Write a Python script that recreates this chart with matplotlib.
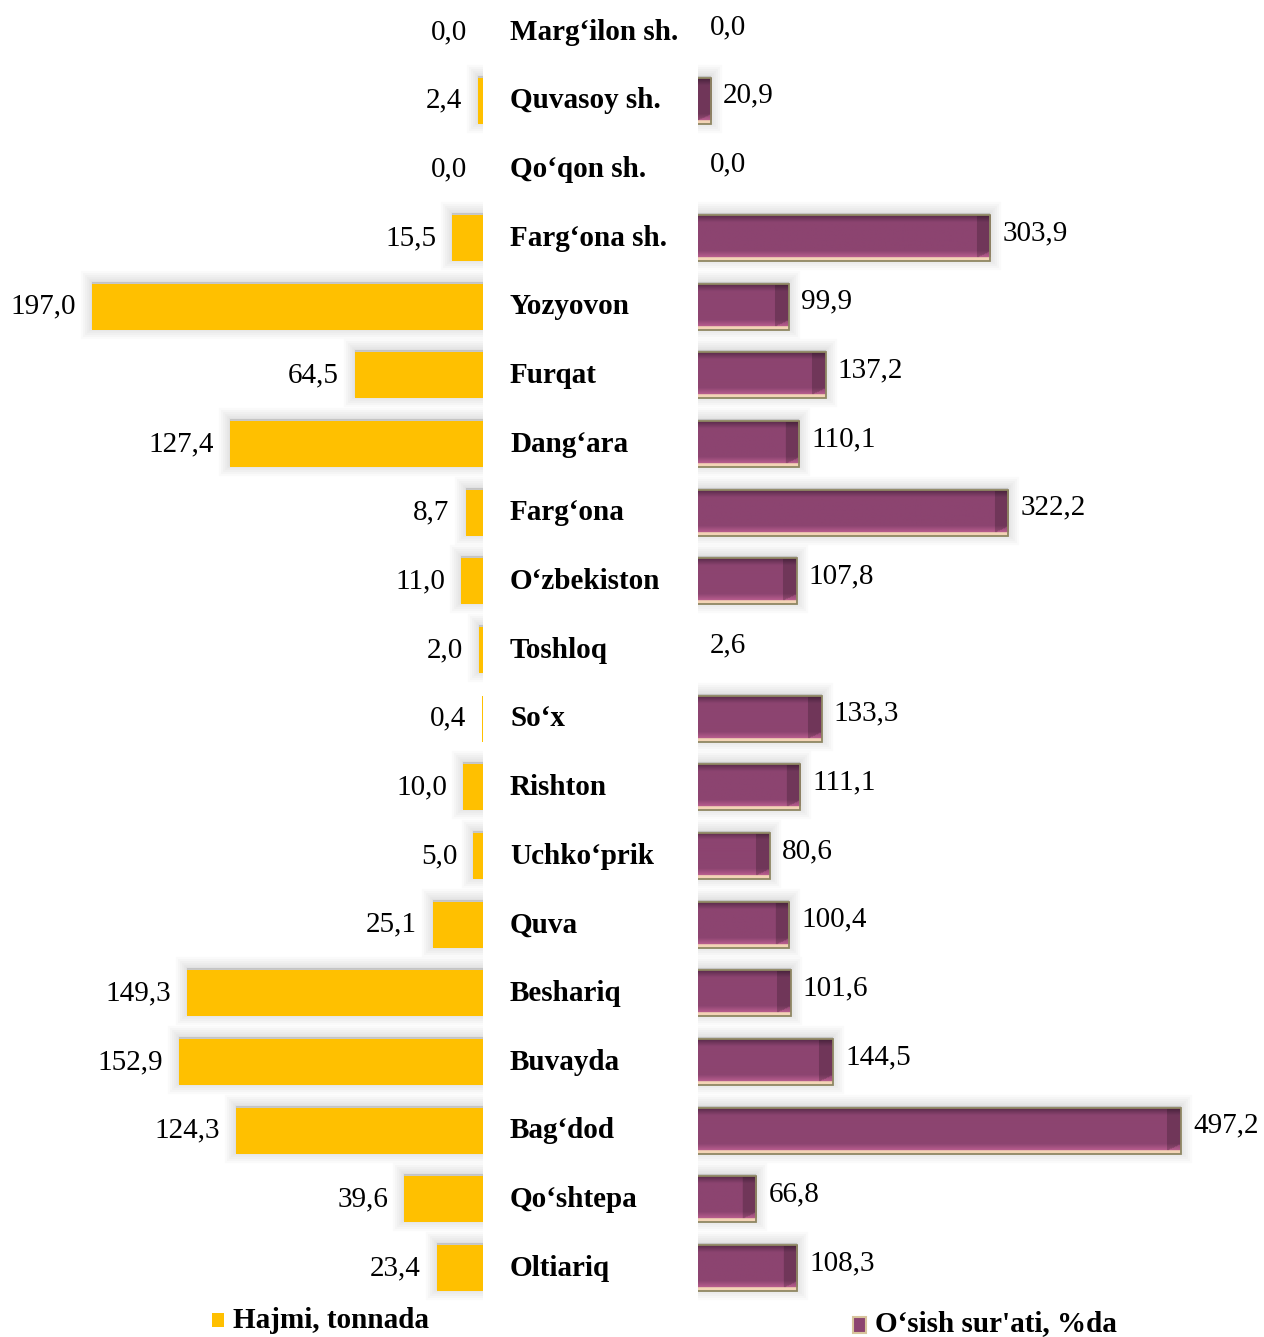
import matplotlib
matplotlib.use('Agg')
import matplotlib.pyplot as plt
import matplotlib.transforms as mtransforms
from matplotlib.patches import Rectangle
import numpy as np

plt.rcParams['font.family'] = ['Liberation Serif', 'DejaVu Serif']

categories = ["Marg‘ilon sh.", "Quvasoy sh.", "Qo‘qon sh.", "Farg‘ona sh.", "Yozyovon",
              "Furqat", "Dang‘ara", "Farg‘ona", "O‘zbekiston", "Toshloq", "So‘x",
              "Rishton", "Uchko‘prik", "Quva", "Beshariq", "Buvayda", "Bag‘dod",
              "Qo‘shtepa", "Oltiariq"]
volume = [0.0, 2.4, 0.0, 15.5, 197.0, 64.5, 127.4, 8.7, 11.0, 2.0, 0.4, 10.0, 5.0,
          25.1, 149.3, 152.9, 124.3, 39.6, 23.4]
growth = [0.0, 20.9, 0.0, 303.9, 99.9, 137.2, 110.1, 322.2, 107.8, 2.6, 133.3, 111.1,
          80.6, 100.4, 101.6, 144.5, 497.2, 66.8, 108.3]
legend_labels = ["Hajmi, tonnada", "O‘sish sur'ati, %da"]

W, H = 1264, 1337
fig = plt.figure(figsize=(W / 100, H / 100), dpi=100)

n = len(categories)
ypos = np.arange(n)
row0, step = 32.0, 68.67
ytop = -row0 / step
ybot = (H - row0) / step
bh = 46 / step

lscale = 1.985
LXLIM = (483 / lscale, 0)
axL = fig.add_axes([0, 0, 483 / W, 1])
axL.axis('off')

r0, rscale = 7.7, 0.9866
RXLIM = (r0, r0 + 566 / rscale)
axR = fig.add_axes([698 / W, 0, 566 / W, 1])
axR.axis('off')

vol_arr = np.array(volume)
gro_arr = np.array(growth)

# soft shadows (only for visible bars)
mL = vol_arr >= 1
mR = gro_arr >= r0 + 1
for lw in [16, 13, 10, 7, 4, 1.5]:
    axL.barh(ypos[mL] - 0.03, vol_arr[mL], height=bh, color='black', edgecolor='black',
             linewidth=lw, alpha=0.018, zorder=1)
    axR.barh(ypos[mR] - 0.03, gro_arr[mR], height=bh, color='black', edgecolor='black',
             linewidth=lw, alpha=0.018, zorder=1)

# yellow bars
axL.barh(ypos, volume, height=bh, color='#FFC000', edgecolor='none', zorder=3)

def hexrgb(h):
    h = h.lstrip('#')
    return np.array([int(h[i:i + 2], 16) / 255 for i in (0, 2, 4)])

top_c = hexrgb('#5a2b4b')
mid_c = hexrgb('#8c4470')
low_c = hexrgb('#bb5f90')
peach = hexrgb('#f3d4b6')
rows = 60
col = np.zeros((rows, 3))
for r in range(rows):
    t = r / (rows - 1)
    if t < 0.15:
        f = t / 0.15
        col[r] = top_c * (1 - f) + mid_c * f
    elif t < 0.78:
        col[r] = mid_c
    elif t < 0.93:
        f = (t - 0.78) / 0.15
        col[r] = mid_c * (1 - f) + low_c * f
    else:
        col[r] = peach

bars = axR.barh(ypos, growth, height=bh, facecolor='none', edgecolor='#8f8763',
                linewidth=1.3, zorder=4)
for b, v, yc in zip(bars, growth, ypos):
    if v <= r0:
        b.set_visible(False)
        continue
    px = max(int(round((v - r0) * rscale)), 2)
    img = np.repeat(col[:, None, :], px, axis=1).copy()
    bev = 14
    for r in range(rows):
        t = r / (rows - 1)
        if t >= 0.93:
            continue
        for c in range(max(0, px - bev), px):
            d = px - c
            if t < 0.78 or (0.93 - t) / 0.15 * bev >= (bev - d):
                img[r, c] = img[r, c] * 0.8
    im = axR.imshow(img, extent=[r0, v, yc + bh / 2, yc - bh / 2], aspect='auto',
                    interpolation='bilinear', zorder=3)
    im.set_clip_path(b)

axL.set_xlim(*LXLIM)
axL.set_ylim(ybot, ytop)
axR.set_xlim(*RXLIM)
axR.set_ylim(ybot, ytop)

def fmt(v):
    return f"{v:.1f}".replace('.', ',')

for yc, v in zip(ypos, volume):
    axL.annotate(fmt(v), xy=(v, yc), xytext=(-16, 0), textcoords='offset pixels',
                 ha='right', va='center', fontsize=21, color='black', zorder=6,
                 annotation_clip=False)
for yc, v in zip(ypos, growth):
    axR.annotate(fmt(v), xy=(max(v, r0), yc), xytext=(12, 5), textcoords='offset pixels',
                 ha='left', va='center', fontsize=21, color='black', zorder=6,
                 annotation_clip=False)

trans = mtransforms.blended_transform_factory(fig.transFigure, axL.transData)
for yc, name in zip(ypos, categories):
    fig.text(510 / W, yc, name, transform=trans, ha='left', va='center',
             fontsize=21, fontweight='bold', color='black')

# legend
fig.patches.append(Rectangle((212 / W, 1 - 1327 / H), 12 / W, 14 / H,
                             transform=fig.transFigure, facecolor='#FFC000',
                             edgecolor='none', figure=fig))
fig.text(233 / W, 1 - 1320 / H, legend_labels[0], ha='left', va='center',
         fontsize=21, fontweight='bold')
fig.patches.append(Rectangle((853 / W, 1 - 1333 / H), 13 / W, 16 / H,
                             transform=fig.transFigure, facecolor='#8c4470',
                             edgecolor='#d8c49c', linewidth=1.5, figure=fig))
fig.text(875 / W, 1 - 1324 / H, legend_labels[1], ha='left', va='center',
         fontsize=21, fontweight='bold')

fig.savefig('out.png', dpi=100, facecolor='white')
